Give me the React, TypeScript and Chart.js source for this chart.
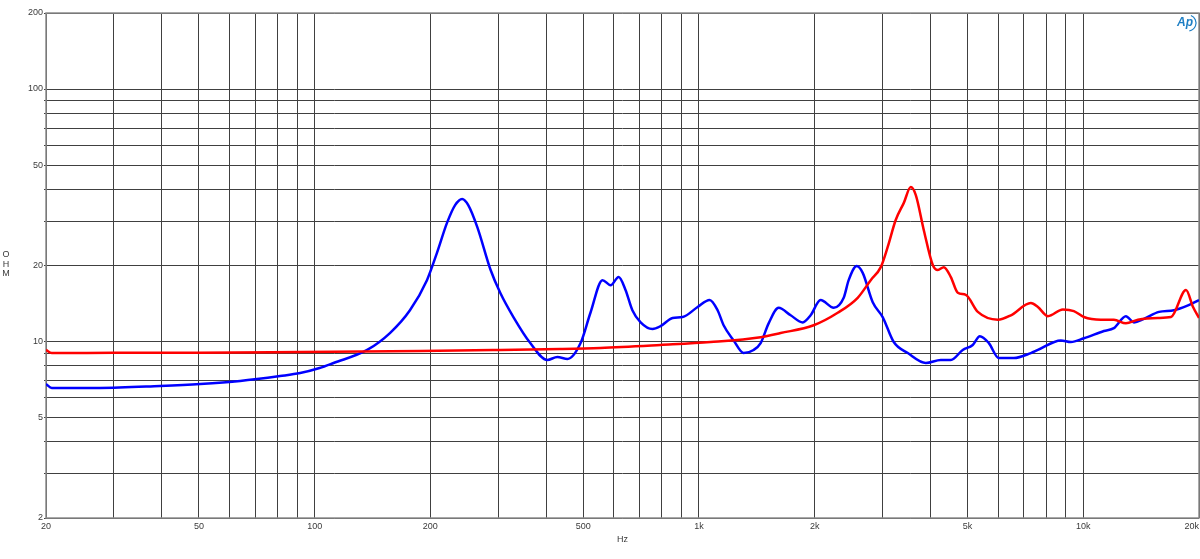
import React, { useEffect, useRef } from 'react';
import { Chart, registerables } from 'chart.js';

Chart.register(...registerables);

// Impedance curves (Hz, ohm)
const blueFreq = [20, 20.7, 27.6, 39.6, 50.4, 64, 81.3, 91.7, 103, 112, 137, 157, 177, 196, 208, 221, 232, 242, 251, 265, 287, 304, 329, 364, 403, 428, 455, 492, 522, 561, 589, 618, 644, 671, 705, 757, 794, 854, 907, 992, 1066, 1118, 1159, 1231, 1307, 1387, 1447, 1518, 1612, 1732, 1862, 1952, 2072, 2242, 2380, 2452, 2574, 2667, 2832, 3006, 3212, 3494, 3892, 4258, 4522, 4856, 5156, 5380, 5678, 6028, 6594, 7304, 7618, 8742, 9284, 10036, 11314, 12012, 12908, 13542, 14380, 15734, 17216, 18730, 20000];
const blueOhm = [6.79, 6.55, 6.55, 6.67, 6.79, 6.98, 7.3, 7.5, 7.85, 8.22, 9.26, 10.8, 13.3, 17.5, 22.4, 29.5, 34.7, 36.7, 34.7, 28.4, 19.2, 15.6, 12.5, 9.86, 8.45, 8.68, 8.53, 9.86, 13.0, 17.5, 16.7, 18.0, 16.0, 13.3, 11.9, 11.2, 11.5, 12.4, 12.5, 13.7, 14.6, 13.3, 11.6, 10.1, 9.0, 9.26, 9.86, 11.8, 13.6, 12.7, 11.9, 12.7, 14.6, 13.6, 14.9, 17.5, 19.9, 18.7, 14.3, 12.5, 9.95, 9.0, 8.22, 8.45, 8.45, 9.26, 9.69, 10.5, 9.86, 8.6, 8.6, 9.0, 9.26, 10.1, 9.95, 10.3, 11.0, 11.3, 12.6, 11.9, 12.3, 13.1, 13.3, 13.9, 14.6];

const redFreq = [20, 20.7, 30, 50, 91.7, 188, 304, 436, 554, 794, 1072, 1447, 1631, 1988, 2296, 2588, 2798, 2972, 3098, 3250, 3412, 3557, 3666, 3846, 4058, 4182, 4336, 4522, 4714, 4946, 5316, 5992, 6480, 7304, 7618, 8090, 8848, 9452, 10036, 11112, 12012, 12908, 13870, 15638, 16912, 18502, 19300, 20000];
const redOhm = [9.26, 9.0, 9.02, 9.03, 9.09, 9.17, 9.26, 9.34, 9.43, 9.69, 9.95, 10.4, 10.8, 11.6, 13.0, 14.9, 17.5, 19.7, 23.7, 30.3, 35.4, 40.9, 38.0, 27.6, 20.1, 19.2, 19.7, 18.0, 15.6, 15.3, 13.1, 12.2, 12.7, 14.2, 13.7, 12.6, 13.4, 13.2, 12.5, 12.2, 12.2, 11.8, 12.2, 12.4, 12.5, 16.0, 13.7, 12.4];

// Grid and tick labels
const xGridValues = [20, 30, 40, 50, 60, 70, 80, 90, 100, 200, 300, 400, 500, 600, 700, 800, 900, 1000, 2000, 3000, 4000, 5000, 6000, 7000, 8000, 9000, 10000, 20000];
const xLabelValues = [20, 50, 100, 200, 500, 1000, 2000, 5000, 10000];
const yGridValues = [2, 3, 4, 5, 6, 7, 8, 9, 10, 20, 30, 40, 50, 60, 70, 80, 90, 100, 200];
const yLabelValues = [2, 5, 10, 20, 50, 100, 200];
const xAxisTitle = 'Hz';
const yAxisTitle = ['O', 'H', 'M'];
const lastXLabel = '20k';

const FONT = '"Liberation Sans", Arial, sans-serif';
const TEXT = '#3a3a3a';
const GRID = '#404040';

const fmtHz = (v: number) => (v >= 1000 ? `${v / 1000}k` : String(v));

const decorPlugin = {
  id: 'decor',
  beforeDatasetsDraw(chart: any) {
    const { ctx, chartArea: a } = chart;
    ctx.save();
    ctx.strokeStyle = '#8c8c8c';
    ctx.lineWidth = 1.5;
    ctx.strokeRect(a.left, a.top, a.right - a.left, a.bottom - a.top);
    ctx.restore();
  },
  afterDraw(chart: any) {
    const { ctx, chartArea: a } = chart;
    ctx.save();
    ctx.fillStyle = TEXT;
    ctx.font = `9px ${FONT}`;
    ctx.textAlign = 'center';
    ctx.textBaseline = 'middle';
    const mid = (a.top + a.bottom) / 2;
    yAxisTitle.forEach((c, i) => ctx.fillText(c, 6, mid - 11 + i * 9.7));
    ctx.textAlign = 'right';
    ctx.fillText(lastXLabel, a.right, a.bottom + 8.5);
    // AP logo
    ctx.fillStyle = '#1f7fc4';
    ctx.strokeStyle = '#1f7fc4';
    ctx.font = `italic bold 12px ${FONT}`;
    ctx.textAlign = 'left';
    ctx.fillText('Ap', a.right - 22, a.top + 10);
    ctx.lineWidth = 1.2;
    ctx.beginPath();
    ctx.arc(a.right - 11, a.top + 10, 8, -1.2, 1.4);
    ctx.stroke();
    ctx.restore();
  },
};

export default function App() {
  const ref = useRef<HTMLCanvasElement | null>(null);
  useEffect(() => {
    if (!ref.current) return;
    const chart = new Chart(ref.current, {
      type: 'line',
      data: {
        datasets: [
          {
            label: 'red',
            data: redFreq.map((f, i) => ({ x: f, y: redOhm[i] })),
            borderColor: '#ff0000',
            borderWidth: 2.5,
            pointRadius: 0,
            cubicInterpolationMode: 'monotone',
            fill: false,
          },
          {
            label: 'blue',
            data: blueFreq.map((f, i) => ({ x: f, y: blueOhm[i] })),
            borderColor: '#0000ff',
            borderWidth: 2.5,
            pointRadius: 0,
            cubicInterpolationMode: 'monotone',
            fill: false,
          },
        ],
      },
      options: {
        responsive: false,
        animation: false,
        layout: { padding: { left: 0, right: 1, top: 13, bottom: 0 } },
        plugins: { legend: { display: false }, tooltip: { enabled: false }, title: { display: false } },
        scales: {
          x: {
            type: 'logarithmic',
            min: 20,
            max: 20000,
            afterBuildTicks: (s: any) => {
              s.ticks = xGridValues.map((v) => ({ value: v }));
            },
            afterFit: (s: any) => {
              s.height = 41;
              s.paddingLeft = 0;
              s.paddingRight = 0;
            },
            ticks: {
              autoSkip: false,
              maxRotation: 0,
              padding: 3,
              color: TEXT,
              font: { family: FONT, size: 9 },
              callback: (v: any) => (xLabelValues.includes(Number(v)) ? fmtHz(Number(v)) : ''),
            },
            grid: { color: GRID, lineWidth: 1, drawTicks: false },
            border: { display: false },
            title: {
              display: true,
              text: xAxisTitle,
              color: TEXT,
              font: { family: FONT, size: 9 },
              padding: { top: 0, bottom: 14 },
            },
          },
          y: {
            type: 'logarithmic',
            min: 2,
            max: 200,
            afterBuildTicks: (s: any) => {
              s.ticks = yGridValues.map((v) => ({ value: v }));
            },
            afterFit: (s: any) => {
              s.width = 46;
              s.paddingTop = 0;
              s.paddingBottom = 0;
            },
            ticks: {
              autoSkip: false,
              padding: 1,
              color: TEXT,
              font: { family: FONT, size: 9 },
              callback: (v: any) => (yLabelValues.includes(Number(v)) ? String(v) : ''),
            },
            grid: { color: GRID, lineWidth: 1, drawTicks: true, tickLength: 2 },
            border: { display: false },
          },
        },
      },
      plugins: [decorPlugin],
    } as any);
    return () => chart.destroy();
  }, []);
  return (
    <div style={{ position: 'absolute', left: 0, top: 0, width: 1200, height: 559, background: '#fff' }}>
      <canvas ref={ref} width={1200} height={559} />
    </div>
  );
}
